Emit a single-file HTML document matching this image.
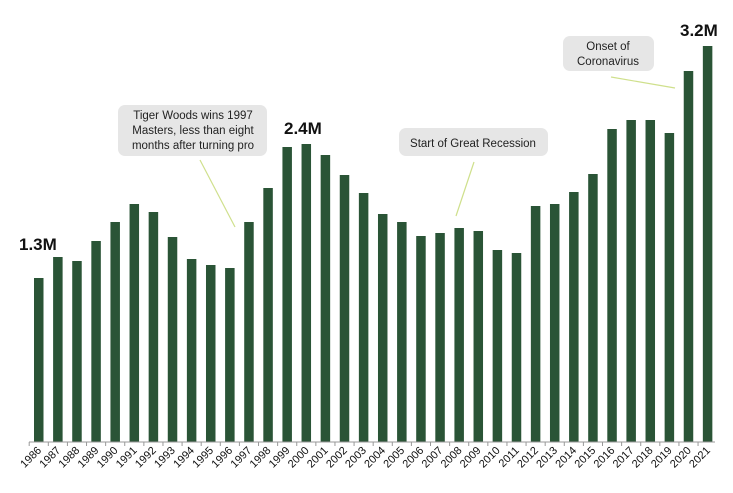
<!DOCTYPE html>
<html><head><meta charset="utf-8"><style>
body{margin:0;background:#fff;}
svg{display:block;font-family:"Liberation Sans",sans-serif;}
</style></head><body>
<svg width="733" height="493" xmlns="http://www.w3.org/2000/svg">
<g id="bars" fill="#2a5436"></g>
<line x1="29" y1="442" x2="715" y2="442" stroke="#999" stroke-width="1"/>
<g id="ticks" stroke="#999"></g>
<g id="labels" font-size="11" fill="#111"></g>
<text x="19" y="250" font-size="17" font-weight="bold" fill="#111">1.3M</text>
<text x="284" y="134" font-size="17" font-weight="bold" fill="#111">2.4M</text>
<text x="680" y="36" font-size="17" font-weight="bold" fill="#111">3.2M</text>
<rect x="118" y="105" width="149" height="51" rx="7" fill="#e6e6e6"/>
<text font-size="11.5" fill="#222" text-anchor="middle"><tspan x="193" y="119">Tiger Woods wins 1997</tspan><tspan x="193" y="134">Masters, less than eight</tspan><tspan x="193" y="149">months after turning pro</tspan></text>
<rect x="399" y="128" width="149" height="28" rx="7" fill="#e6e6e6"/>
<text x="473" y="147" font-size="11.5" fill="#222" text-anchor="middle">Start of Great Recession</text>
<rect x="563" y="36" width="91" height="35" rx="7" fill="#e6e6e6"/>
<text font-size="11.5" fill="#222" text-anchor="middle"><tspan x="608" y="50">Onset of</tspan><tspan x="608" y="65">Coronavirus</tspan></text>
<g stroke="#cfe08c" stroke-width="1.2">
<line x1="200" y1="160" x2="235" y2="227"/>
<line x1="474" y1="162" x2="456" y2="216"/>
<line x1="611" y1="77" x2="675" y2="88"/>
</g>
<script>
var tops=[278,257,261,241,222,204,212,237,259,265,268,222,188,147,144,155,175,193,214,222,236,233,228,231,250,253,206,204,192,174,129,120,120,133,71,46];
var b=document.getElementById('bars'),t=document.getElementById('ticks'),l=document.getElementById('labels');
var ns="http://www.w3.org/2000/svg";
for(var i=0;i<36;i++){
 var x=34+i*19.11;
 var r=document.createElementNS(ns,'rect');
 r.setAttribute('x',x);r.setAttribute('y',tops[i]);r.setAttribute('width',9.5);r.setAttribute('height',442-tops[i]);
 b.appendChild(r);
 var tk=document.createElementNS(ns,'line');
 var tx=x-4.8;tk.setAttribute('x1',tx);tk.setAttribute('x2',tx);tk.setAttribute('y1',442);tk.setAttribute('y2',446);
 t.appendChild(tk);
 var tt=document.createElementNS(ns,'text');
 var cx=x+8,cy=451;
 tt.setAttribute('x',cx);tt.setAttribute('y',cy);tt.setAttribute('text-anchor','end');
 tt.setAttribute('transform','rotate(-45 '+cx+' '+cy+')');
 tt.textContent=1986+i;l.appendChild(tt);
}
</script>
</svg>
</body></html>
